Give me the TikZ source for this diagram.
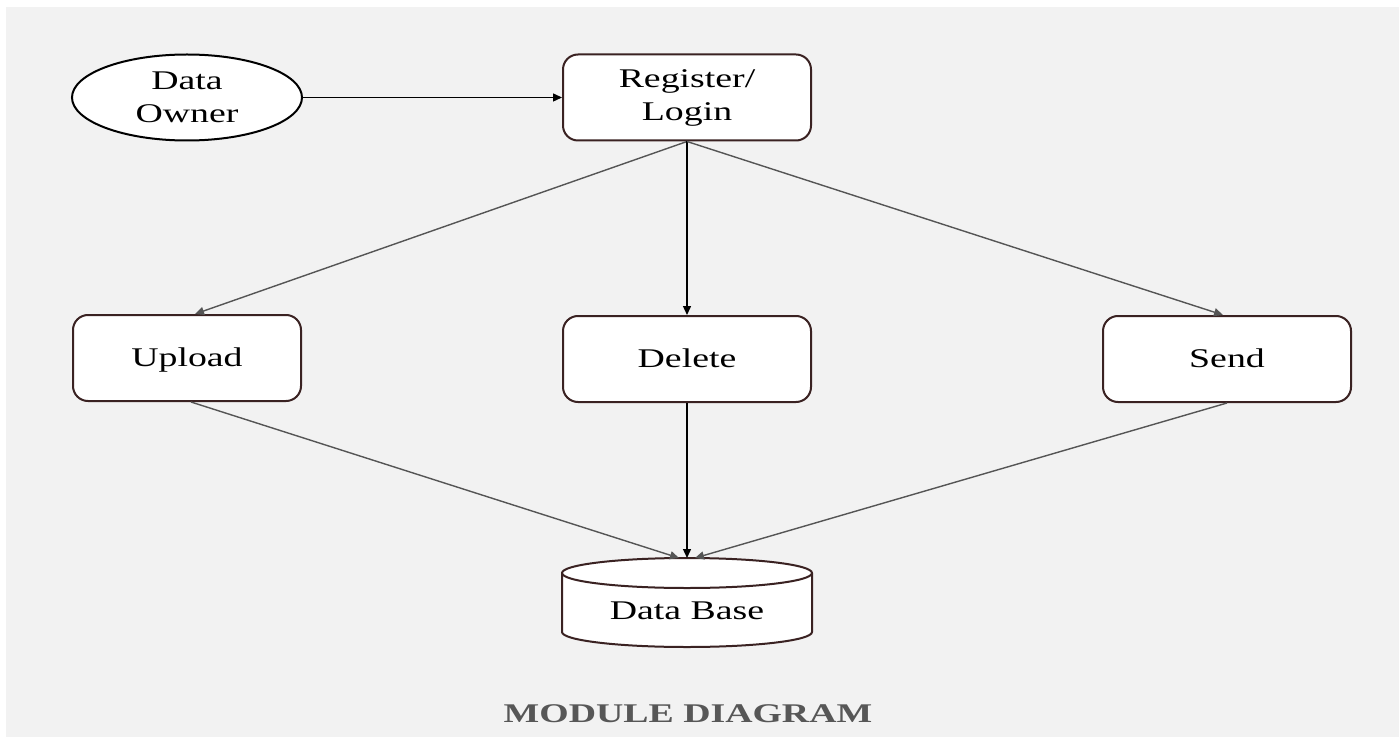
\documentclass[tikz,border=0pt]{standalone}
\usepackage{fontspec}
\setmainfont{Liberation Serif}[FakeStretch=1.4]
\usetikzlibrary{arrows.meta,shapes.geometric}
\definecolor{bgc}{HTML}{F2F2F2}
\definecolor{boxc}{HTML}{3A2222}
\definecolor{grayline}{HTML}{555555}
\definecolor{titlec}{HTML}{575757}
\begin{document}
\begin{tikzpicture}[x=0.5pt,y=0.5pt,
  every node/.style={font=\fontsize{13.5}{16.5}\selectfont, align=center},
  boxnode/.style={draw=boxc, line width=1pt, fill=white, rounded corners=7.5pt, minimum width=124pt, minimum height=43pt, inner sep=0pt},
  oneline/.style={text height=8.9pt, text depth=0pt},
  ellnode/.style={draw=black, line width=1pt, fill=white, ellipse, minimum width=115pt, minimum height=43pt, inner sep=0pt},
  arr/.style={line width=0.7pt, -{Triangle[length=4.5pt,width=4pt]}},
  darr/.style={arr, draw=grayline},
  barr/.style={arr, draw=black}]
\useasboundingbox (0,0) rectangle (1400,-737);
\fill[white] (0,0) rectangle (1400,-737);
\fill[bgc] (6,-7) rectangle (1399,-737);

\node[ellnode] (own) at (187,-97.5) {Data\\Owner};
\node[boxnode] (reg) at (687,-97.5) {Register/\\Login};
\node[boxnode, oneline, minimum width=114pt] (up) at (187,-358) {Upload};
\node[boxnode, oneline] (del) at (687,-359) {Delete};
\node[boxnode, oneline] (snd) at (1227,-359) {Send};

% database cylinder
\filldraw[draw=boxc, line width=1pt, fill=white]
  (562,-573) -- (562,-632) arc[start angle=180, end angle=360, x radius=62.5pt, y radius=7.5pt]
  -- (812,-573) arc[start angle=0, end angle=180, x radius=62.5pt, y radius=7.5pt] -- cycle;
\draw[draw=boxc, line width=1pt] (562,-573) arc[start angle=180, end angle=360, x radius=62.5pt, y radius=7.5pt];
\node[oneline] (db) at (687,-611) {Data Base};
\coordinate (dbL) at (679,-558);
\coordinate (dbC) at (687,-558);
\coordinate (dbR) at (695,-558);

\draw[barr] (own.east) -- (reg.west);
\draw[darr] (reg.south) -- ([xshift=4pt]up.north);
\draw[barr] (reg.south) -- (del.north);
\draw[darr] (reg.south) -- ([xshift=-2pt]snd.north);
\draw[darr] ([xshift=2pt]up.south) -- (dbL);
\draw[barr] (del.south) -- (dbC);
\draw[darr] (snd.south) -- (dbR);

\node[font=\fontsize{13.5}{16.5}\selectfont\bfseries, text=titlec] (title) at (688,-714) {MODULE DIAGRAM};
\end{tikzpicture}
\end{document}
